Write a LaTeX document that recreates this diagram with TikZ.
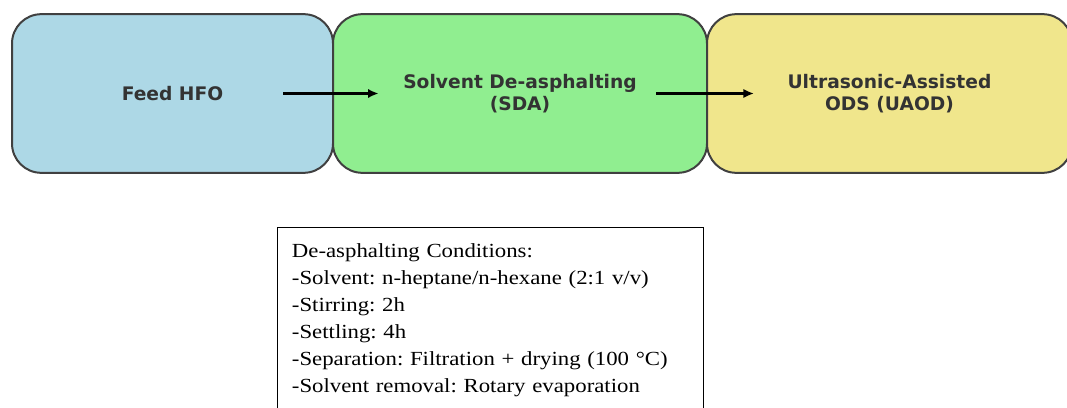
\documentclass[tikz,border=0pt]{standalone}
\usepackage{fontspec}
\setmainfont{Liberation Serif}
\newfontfamily\stagefont{DejaVu Sans}
\newfontfamily\condfont[FakeStretch=1.14]{Liberation Serif}
\usetikzlibrary{arrows.meta}
\definecolor{hfoblue}{HTML}{ADD8E6}
\definecolor{sdagreen}{HTML}{90EE90}
\definecolor{uaodyellow}{HTML}{F0E68C}
\definecolor{edgegray}{HTML}{404040}
\definecolor{labelgray}{HTML}{333333}
\tikzset{
  stage/.style={draw=edgegray, line width=1.5pt, rounded corners=22pt,
    minimum height=119pt, align=center, text=labelgray,
    font=\stagefont\bfseries\fontsize{14}{16.5}\selectfont},
  flow/.style={-{Latex[length=8pt,width=7pt]}, line width=1.6pt},
  condtext/.style={text width=297pt, align=left, inner xsep=11pt, inner ysep=12pt,
    font=\condfont\frenchspacing\fontsize{15}{20.25}\selectfont}
}

\begin{document}
\begin{tikzpicture}[x=0.75pt, y=-0.75pt]
  \useasboundingbox (0,0) rectangle (1067,407);
  \clip (0,0) rectangle (1067,407);

  \node[stage, fill=hfoblue, minimum width=240.75pt] (feed) at (172.5,93.5) {Feed HFO};
  \node[stage, fill=sdagreen, minimum width=280.5pt] (sda) at (520,93.5) {Solvent De-asphalting\\(SDA)};
  \node[stage, fill=uaodyellow, minimum width=273.75pt] (uaod) at (889.5,93.5) {Ultrasonic-Assisted\\ODS (UAOD)};

  \draw[flow] ([xshift=-38pt]feed.east) -- ([xshift=35pt]sda.west);
  \draw[flow] ([xshift=-39pt]sda.east) -- ([xshift=36pt]uaod.west);

  \node[condtext, anchor=north west] (cond) at (277,227) {De-asphalting Conditions:\\
    -Solvent: n-heptane/n-hexane (2:1 v/v)\\
    -Stirring: 2h\\
    -Settling: 4h\\
    -Separation: Filtration + drying (100 °C)\\
    -Solvent removal: Rotary evaporation};
  \draw[line width=0.75pt] (cond.north west) rectangle ++(320pt,-150pt);
\end{tikzpicture}
\end{document}
